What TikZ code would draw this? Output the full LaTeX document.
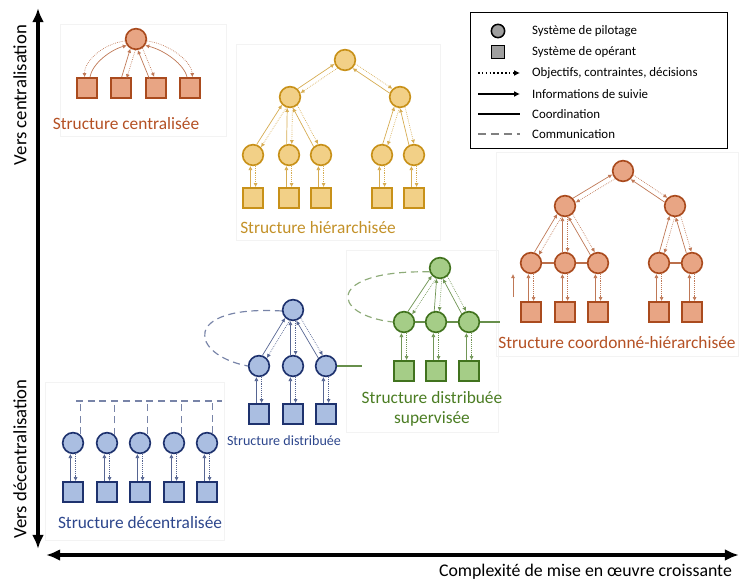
\documentclass[tikz,border=0pt]{standalone}
\usepackage{fontspec}
\setmainfont{Carlito}
\usetikzlibrary{arrows.meta,calc}

\definecolor{orline}{RGB}{170,75,30}
\definecolor{orfill}{RGB}{232,165,132}
\definecolor{ortext}{RGB}{180,80,35}
\definecolor{yeline}{RGB}{200,145,25}
\definecolor{yefill}{RGB}{242,208,135}
\definecolor{yetext}{RGB}{195,145,40}
\definecolor{grline}{RGB}{65,115,30}
\definecolor{grfill}{RGB}{165,205,135}
\definecolor{grtext}{RGB}{75,125,35}
\definecolor{blline}{RGB}{30,50,110}
\definecolor{blfill}{RGB}{170,190,225}
\definecolor{bltext}{RGB}{45,70,140}
\definecolor{panelgray}{RGB}{243,243,243}

% two opposite links between an upper node and a lower node
\newcommand{\linkpair}[3]{%
\draw[orderarrow=#3,shorten <=9.3pt,shorten >=9.3pt] ($(#1)!2.2pt!90:(#2)$) -- ($(#2)!2.2pt!-90:(#1)$);
\draw[infoarrow=#3,shorten <=9.3pt,shorten >=9.3pt] ($(#2)!2.2pt!90:(#1)$) -- ($(#1)!2.2pt!-90:(#2)$);}

\begin{document}
\begin{tikzpicture}[x=0.03cm,y=-0.03cm,
pilotnode/.style={circle,minimum size=0.62cm,inner sep=0pt,line width=1.4pt,draw=#1line,fill=#1fill},
operantnode/.style={rectangle,minimum size=0.6cm,inner sep=0pt,line width=1.4pt,draw=#1line,fill=#1fill},
infoarrow/.style={-{Latex[length=3.5pt,width=3.5pt]},line width=0.6pt,draw=#1line!75},
orderarrow/.style={infoarrow=#1,densely dotted},
coordline/.style={line width=1pt,draw=#1line!80},
commline/.style={dash pattern=on 6pt off 4pt,line width=1pt,draw=#1line!60},
structlabel/.style={text=#1text,font=\fontsize{14.8}{17}\selectfont},
axislabel/.style={font=\fontsize{16}{19}\selectfont},
axisarrow/.style={line width=3pt},
legendtext/.style={anchor=west,font=\fontsize{11}{13}\selectfont},
legendarrow/.style={-{Latex[length=5pt,width=5pt]},line width=1.3pt},
panel/.style={draw=panelgray,line width=0.6pt}]
\useasboundingbox (0,0) rectangle (739,581);

% faint panels
\draw[panel] (60,24) rectangle (226,136);
\draw[panel] (236,44) rectangle (440,240);
\draw[panel] (496,152) rectangle (738,356);
\draw[panel] (346,250) rectangle (498,432);
\draw[panel] (45,382) rectangle (224,540);

% axes
\coordinate (vtop) at (38,8);
\coordinate (vbot) at (38,549);
\coordinate (hleft) at (46,555);
\coordinate (hright) at (739,555);
\draw[axisarrow,{Latex[length=12pt,width=10pt]}-{Latex[length=12pt,width=10pt]}] (vbot) -- (vtop);
\draw[axisarrow,{Latex[length=12pt,width=10pt]}-{Latex[length=12pt,width=10pt]}] (hleft) -- (hright);
\node[axislabel,rotate=90] (centrallab) at (20,95) {Vers centralisation};
\node[axislabel,rotate=90] (decentrallab) at (20,459) {Vers décentralisation};
\node[axislabel,font=\fontsize{15.2}{18}\selectfont,anchor=east] (complexlab) at (736,572) {Complexité de mise en œuvre croissante};

% legend
\draw[line width=0.8pt] (470,12) rectangle (727,148);
\node[circle,draw=black,fill=gray!75,line width=1.3pt,minimum size=0.4cm,inner sep=0pt] (legpilot) at (498,31) {};
\node[legendtext] at (528,31) {Système de pilotage};
\node[rectangle,draw=black,fill=gray!75,line width=1.3pt,minimum size=0.38cm,inner sep=0pt] (legoperant) at (498,52) {};
\node[legendtext] at (528,52) {Système de opérant};
\coordinate (legorderA) at (478,73);
\coordinate (legorderB) at (520,73);
\draw[legendarrow,dotted] (legorderA) -- (legorderB);
\node[legendtext] at (528,73) {Objectifs, contraintes, décisions};
\coordinate (leginfoA) at (478,94);
\coordinate (leginfoB) at (520,94);
\draw[legendarrow] (leginfoA) -- (leginfoB);
\node[legendtext] at (528,94) {Informations de suivie};
\coordinate (legcoordA) at (478,114);
\coordinate (legcoordB) at (520,114);
\draw[line width=1.1pt] (legcoordA) -- (legcoordB);
\node[legendtext] at (528,114) {Coordination};
\coordinate (legcommA) at (478,134);
\coordinate (legcommB) at (520,134);
\draw[line width=1.3pt,gray,dash pattern=on 7pt off 4pt] (legcommA) -- (legcommB);
\node[legendtext] at (528,134) {Communication};

% structure centralisee
\node at (136,39) [pilotnode=or] (c0) {};
\node at (87,88) [operantnode=or] (s1) {};
\node at (121,88) [operantnode=or] (s2) {};
\node at (156,88) [operantnode=or] (s3) {};
\node at (190,88) [operantnode=or] (s4) {};
\draw[orderarrow=or] (c0.190) .. controls (102,44) and (84,62) .. ([xshift=-2pt]s1.north);
\draw[infoarrow=or] ([xshift=2.5pt]s1.north) .. controls (92,64) and (110,50) .. (c0.215);
\draw[orderarrow=or] (c0.-10) .. controls (170,44) and (192,62) .. ([xshift=2pt]s4.north);
\draw[infoarrow=or] ([xshift=-2.5pt]s4.north) .. controls (184,64) and (164,50) .. (c0.-35);
\linkpair{c0}{s2}{or}
\linkpair{c0}{s3}{or}
\node at (126,124) [structlabel=or] (labcentral) {Structure centralisée};

% structure hierarchisee
\node at (345,60) [pilotnode=ye] (y0) {};
\node at (290,97) [pilotnode=ye] (y1) {};
\node at (400,97) [pilotnode=ye] (y2) {};
\node at (253,155) [pilotnode=ye] (y3) {};
\node at (289,155) [pilotnode=ye] (y4) {};
\node at (321,155) [pilotnode=ye] (y5) {};
\node at (382,155) [pilotnode=ye] (y6) {};
\node at (414,155) [pilotnode=ye] (y7) {};
\node at (253,198) [operantnode=ye] (q3) {};
\node at (289,198) [operantnode=ye] (q4) {};
\node at (321,198) [operantnode=ye] (q5) {};
\node at (382,198) [operantnode=ye] (q6) {};
\node at (414,198) [operantnode=ye] (q7) {};
\linkpair{y0}{y1}{ye}
\linkpair{y0}{y2}{ye}
\linkpair{y1}{y3}{ye}
\linkpair{y1}{y4}{ye}
\linkpair{y1}{y5}{ye}
\linkpair{y2}{y6}{ye}
\linkpair{y2}{y7}{ye}
\linkpair{y3}{q3}{ye}
\linkpair{y4}{q4}{ye}
\linkpair{y5}{q5}{ye}
\linkpair{y6}{q6}{ye}
\linkpair{y7}{q7}{ye}
\node at (318,228) [structlabel=ye] (labhier) {Structure hiérarchisée};

% structure coordonne-hierarchisee
\node at (623,171) [pilotnode=or] (o0) {};
\node at (565,206) [pilotnode=or] (o1) {};
\node at (675,206) [pilotnode=or] (o2) {};
\node at (531,263) [pilotnode=or] (o3) {};
\node at (565,263) [pilotnode=or] (o4) {};
\node at (598,263) [pilotnode=or] (o5) {};
\node at (659,263) [pilotnode=or] (o6) {};
\node at (692,263) [pilotnode=or] (o7) {};
\node at (531,312) [operantnode=or] (p3) {};
\node at (565,312) [operantnode=or] (p4) {};
\node at (598,312) [operantnode=or] (p5) {};
\node at (659,312) [operantnode=or] (p6) {};
\node at (692,312) [operantnode=or] (p7) {};
\draw[coordline=or] (o3) -- (o4) -- (o5);
\draw[coordline=or] (o6) -- (o7);
\linkpair{o0}{o1}{or}
\linkpair{o0}{o2}{or}
\linkpair{o1}{o3}{or}
\linkpair{o1}{o4}{or}
\linkpair{o1}{o5}{or}
\linkpair{o2}{o6}{or}
\linkpair{o2}{o7}{or}
\linkpair{o3}{p3}{or}
\linkpair{o4}{p4}{or}
\linkpair{o5}{p5}{or}
\linkpair{o6}{p6}{or}
\linkpair{o7}{p7}{or}
\coordinate (strayfoot) at (513,297);
\coordinate (straytip) at (513,274);
\draw[infoarrow=or] (strayfoot) -- (straytip);
\node at (617,343) [structlabel=or] (labcoord) {Structure coordonné-hiérarchisée};

% structure distribuee supervisee
\node at (440,268) [pilotnode=gr] (g0) {};
\node at (404,322) [pilotnode=gr] (g1) {};
\node at (436,322) [pilotnode=gr] (g2) {};
\node at (469,322) [pilotnode=gr] (g3) {};
\node at (404,371) [operantnode=gr] (h1) {};
\node at (436,371) [operantnode=gr] (h2) {};
\node at (469,371) [operantnode=gr] (h3) {};
\coordinate (grcoordend) at (500,322);
\draw[coordline=gr] (g1) -- (g2) -- (g3) -- (grcoordend);
\draw[commline=gr] (g0.200) .. controls (325,270) and (330,315) .. (g1.west);
\linkpair{g0}{g1}{gr}
\linkpair{g0}{g2}{gr}
\linkpair{g0}{g3}{gr}
\linkpair{g1}{h1}{gr}
\linkpair{g2}{h2}{gr}
\linkpair{g3}{h3}{gr}
\node at (432,409) [structlabel=gr,align=center] (labsuperv) {Structure distribuée\\supervisée};

% structure distribuee
\node at (293,310) [pilotnode=bl] (b0) {};
\node at (259,366) [pilotnode=bl] (b1) {};
\node at (293,366) [pilotnode=bl] (b2) {};
\node at (326,366) [pilotnode=bl] (b3) {};
\node at (259,414) [operantnode=bl] (k1) {};
\node at (293,414) [operantnode=bl] (k2) {};
\node at (326,414) [operantnode=bl] (k3) {};
\coordinate (bgcoordend) at (362,366);
\draw[coordline=gr] (b3) -- (bgcoordend);
\draw[commline=bl] (b0.185) .. controls (180,305) and (190,355) .. (b1.west);
\linkpair{b0}{b1}{bl}
\linkpair{b0}{b2}{bl}
\linkpair{b0}{b3}{bl}
\linkpair{b1}{k1}{bl}
\linkpair{b2}{k2}{bl}
\linkpair{b3}{k3}{bl}
\node at (284,441) [structlabel=bl,font=\fontsize{12}{14}\selectfont] (labdistr) {Structure distribuée};

% structure decentralisee
\node at (73,443) [pilotnode=bl] (d1) {};
\node at (107,443) [pilotnode=bl] (d2) {};
\node at (140,443) [pilotnode=bl] (d3) {};
\node at (174,443) [pilotnode=bl] (d4) {};
\node at (207,443) [pilotnode=bl] (d5) {};
\node at (73,492) [operantnode=bl] (e1) {};
\node at (107,492) [operantnode=bl] (e2) {};
\node at (140,492) [operantnode=bl] (e3) {};
\node at (174,492) [operantnode=bl] (e4) {};
\node at (207,492) [operantnode=bl] (e5) {};
\coordinate (decomleft) at (76,401);
\coordinate (decomright) at (222,401);
\draw[commline=bl] (decomleft) -- (decomright);
\draw[commline=bl] (d1.50) -- (d1.50 |- decomleft);
\draw[commline=bl] (d2.45) -- (d2.45 |- decomleft);
\draw[commline=bl] (d3.50) -- (d3.50 |- decomleft);
\draw[commline=bl] (d4.50) -- (d4.50 |- decomleft);
\draw[commline=bl] (d5.60) -- (d5.60 |- decomleft);
\linkpair{d1}{e1}{bl}
\linkpair{d2}{e2}{bl}
\linkpair{d3}{e3}{bl}
\linkpair{d4}{e4}{bl}
\linkpair{d5}{e5}{bl}
\node at (140,523) [structlabel=bl] (labdecentral) {Structure décentralisée};
\end{tikzpicture}
\end{document}
